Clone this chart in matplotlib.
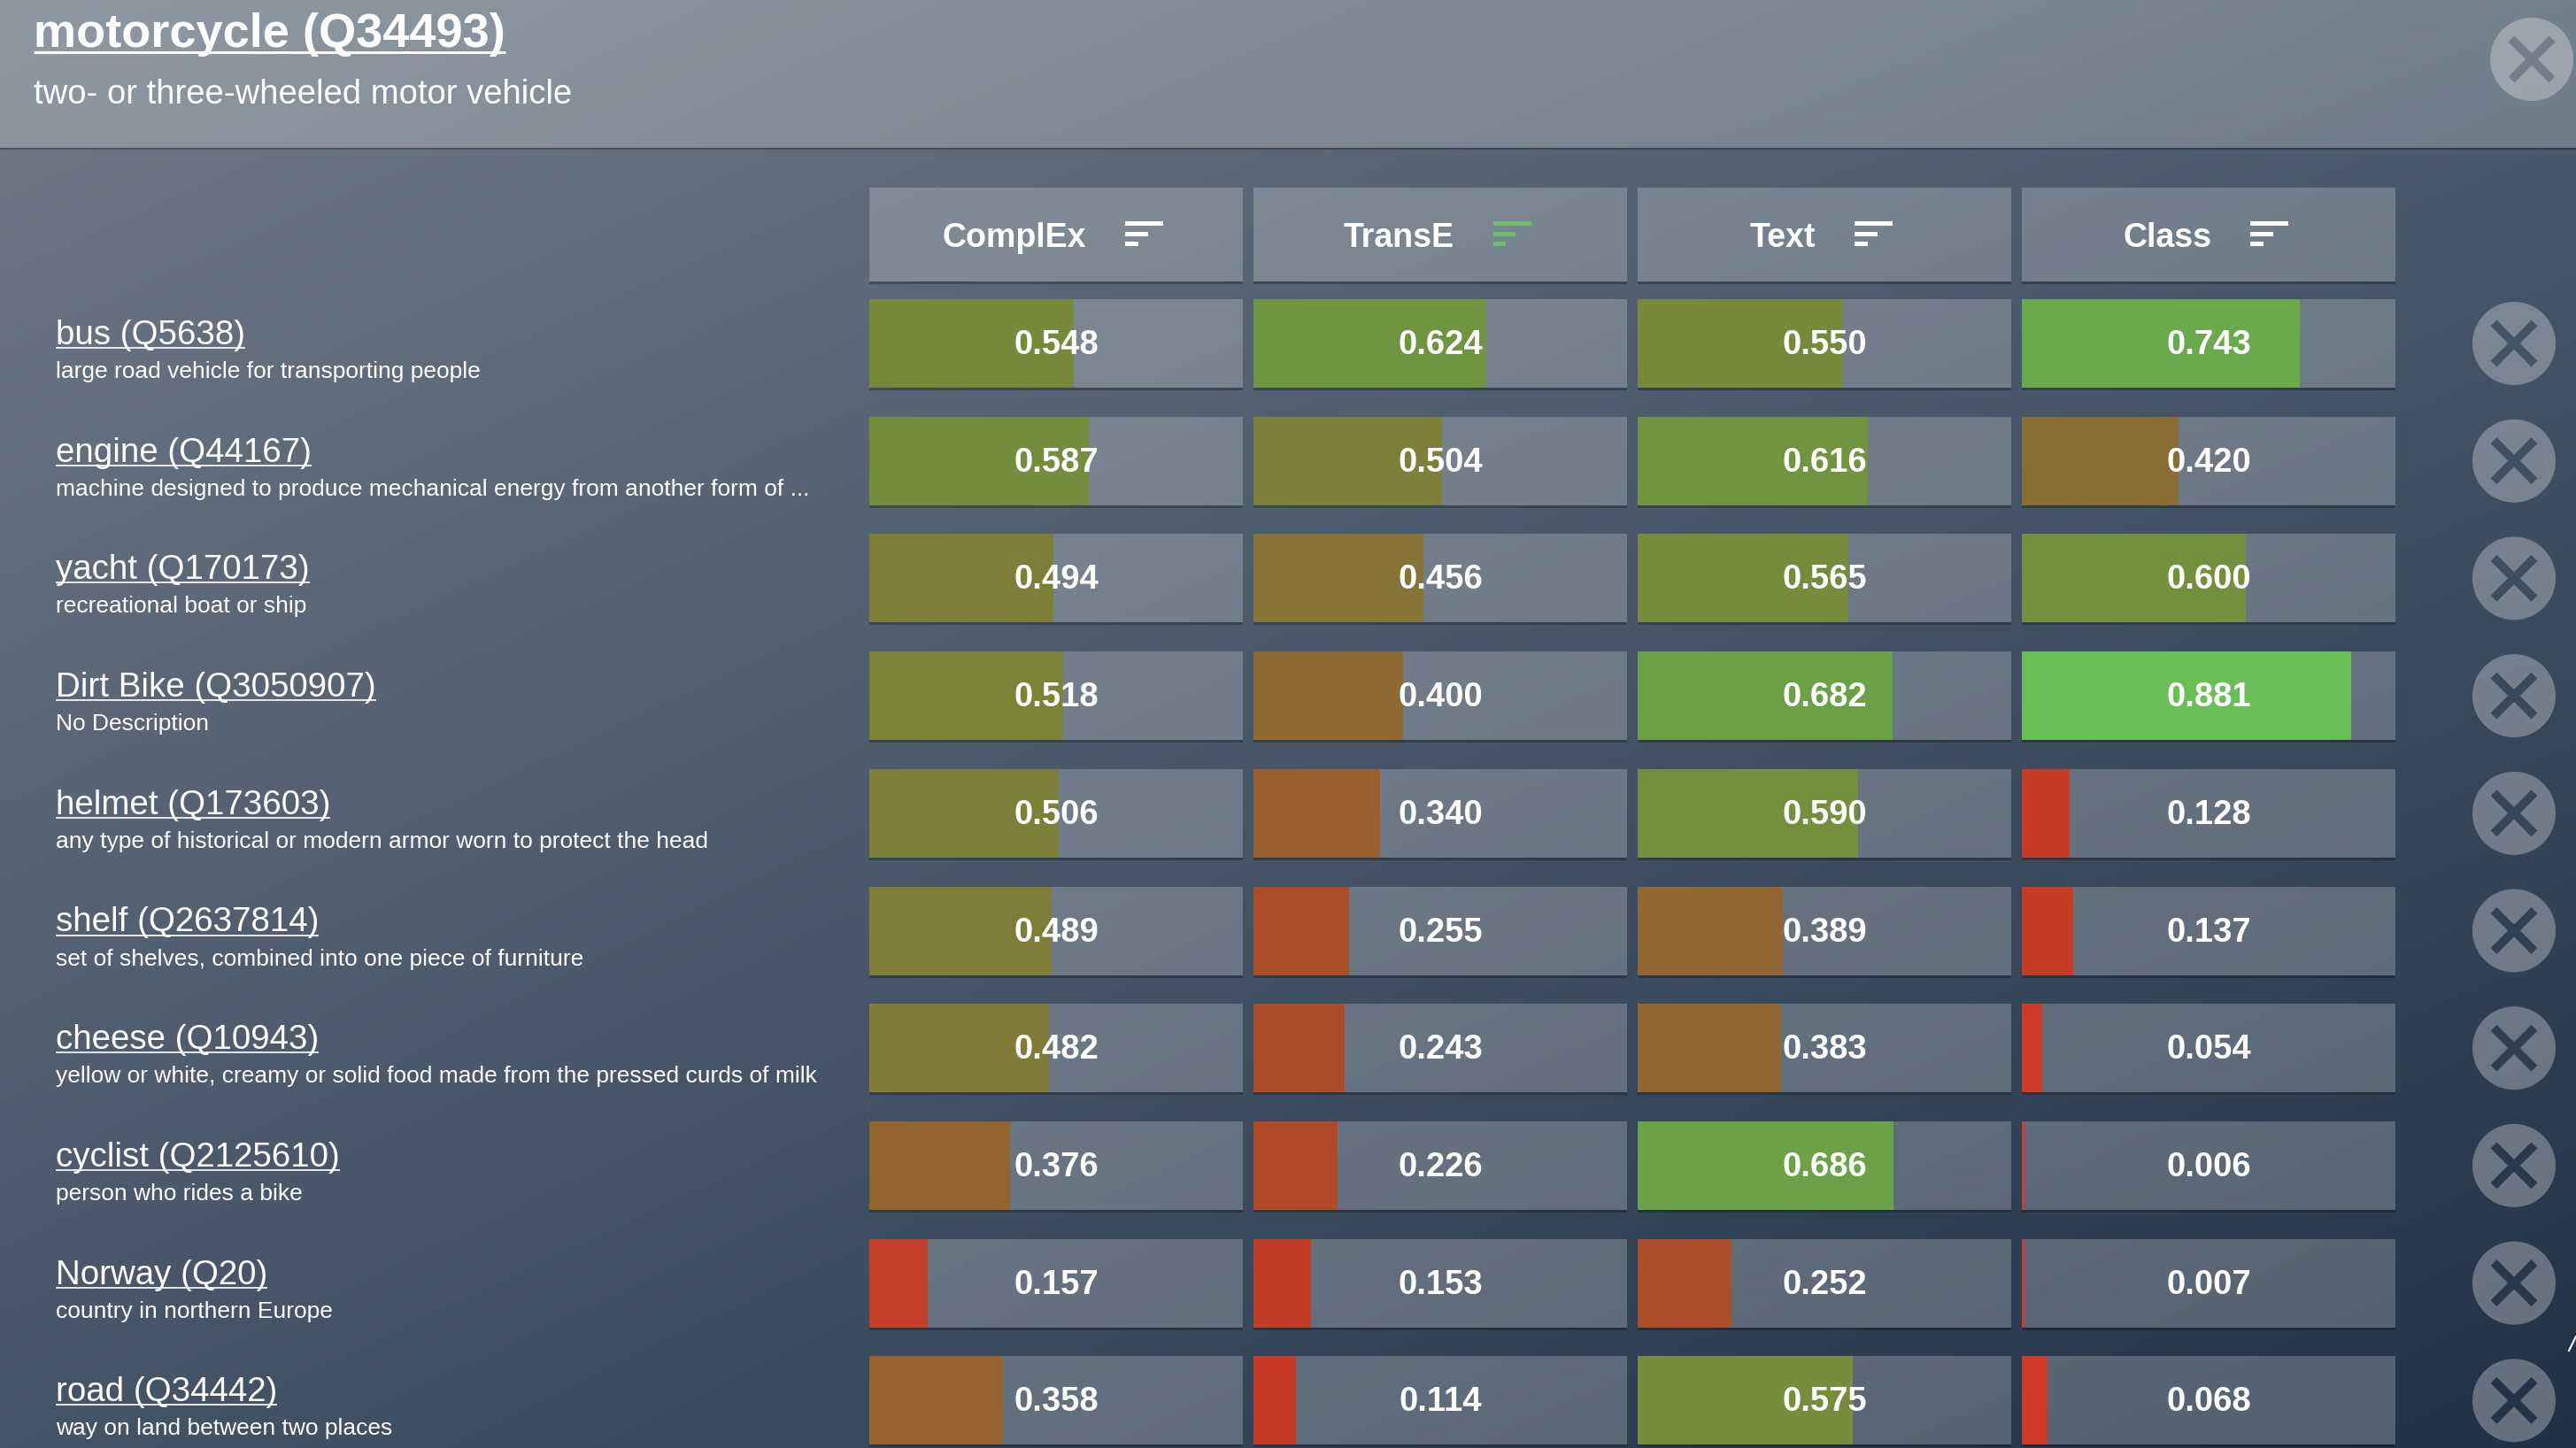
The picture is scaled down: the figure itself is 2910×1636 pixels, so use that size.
import numpy as np
import matplotlib
matplotlib.use("Agg")
import matplotlib.pyplot as plt
from matplotlib.colors import LinearSegmentedColormap
from matplotlib.patches import Rectangle, Circle

plt.rcParams['font.family'] = ['Liberation Sans', 'DejaVu Sans']

W, H = 2910, 1636

# ---- data ----
query_name = "motorcycle (Q34493)"
query_desc = "two- or three-wheeled motor vehicle"
models = ["ComplEx", "TransE", "Text", "Class"]
sorted_by = "TransE"
names = ["bus (Q5638)", "engine (Q44167)", "yacht (Q170173)", "Dirt Bike (Q3050907)",
         "helmet (Q173603)", "shelf (Q2637814)", "cheese (Q10943)", "cyclist (Q2125610)",
         "Norway (Q20)", "road (Q34442)"]
descs = ["large road vehicle for transporting people",
         "machine designed to produce mechanical energy from another form of ...",
         "recreational boat or ship",
         "No Description",
         "any type of historical or modern armor worn to protect the head",
         "set of shelves, combined into one piece of furniture",
         "yellow or white, creamy or solid food made from the pressed curds of milk",
         "person who rides a bike",
         "country in northern Europe",
         "way on land between two places"]
complex_scores = [0.548, 0.587, 0.494, 0.518, 0.506, 0.489, 0.482, 0.376, 0.157, 0.358]
transe_scores = [0.624, 0.504, 0.456, 0.400, 0.340, 0.255, 0.243, 0.226, 0.153, 0.114]
text_scores = [0.550, 0.616, 0.565, 0.682, 0.590, 0.389, 0.383, 0.686, 0.252, 0.575]
class_scores = [0.743, 0.420, 0.600, 0.881, 0.128, 0.137, 0.054, 0.006, 0.007, 0.068]
scores = [complex_scores, transe_scores, text_scores, class_scores]

# ---- layout (pixels) ----
band_h = 167
col_x0, col_w, col_step = 982, 422, 434
head_top, head_h = 212, 106
row_top0, row_h, row_step = 338, 100, 132.7
btn_x, btn_r = 2840, 47

# score colour scale: red -> olive -> green
score_cmap = LinearSegmentedColormap.from_list("score", [
    (0.00, "#d6392a"), (0.12, "#c93b25"), (0.23, "#b04a27"), (0.34, "#9a5f2e"),
    (0.40, "#8f6a32"), (0.46, "#847536"), (0.52, "#7b8439"), (0.60, "#72913e"),
    (0.68, "#6ba046"), (0.75, "#6aab4e"), (0.88, "#6bbd56"), (1.00, "#6cc45a")])


def bg_color(x, y):
    tl = np.array([112, 123, 137]); tr = np.array([76, 93, 111])
    bl = np.array([69, 85, 104]); br = np.array([33, 50, 70])
    u = x / W; v = y / H
    return ((1 - u) * (1 - v) * tl + u * (1 - v) * tr + (1 - u) * v * bl + u * v * br) / 255


fig = plt.figure(figsize=(W / 100, H / 100), dpi=100)
ax = fig.add_axes([0, 0, 1, 1])

gx, gy = np.meshgrid(np.linspace(0, W, 300), np.linspace(0, H, 170))
ax.imshow(bg_color(gx[..., None], gy[..., None]), extent=(0, W, H, 0),
          aspect='auto', interpolation='bilinear', zorder=0)
ax.set_xlim(0, W)
ax.set_ylim(H, 0)
ax.axis('off')

# header band
ax.add_patch(Rectangle((0, 0), W, band_h, fc='white', alpha=0.22, lw=0, zorder=1))
ax.plot([0, W], [band_h + 1, band_h + 1], color='black', alpha=0.3, lw=1.6, zorder=1)

renderer = fig.canvas.get_renderer()


def underline(t, y, lw):
    bb = t.get_window_extent(renderer)
    ax.plot([bb.x0, bb.x1], [y, y], color='white', lw=lw, solid_capstyle='butt', zorder=3)


t = ax.text(38, 53, query_name, fontsize=39, fontweight='bold', color='white',
            va='baseline', zorder=3)
underline(t, 59, 2.2)
ax.text(38, 117, query_desc, fontsize=27.5, color='white', va='baseline', zorder=3)


def close_button(cx, cy, fill_alpha, x_color):
    ax.add_patch(Circle((cx, cy), btn_r, fc='white', alpha=fill_alpha, lw=0, zorder=2))
    d = 23
    for sx in (-1, 1):
        ax.plot([cx - d, cx + d], [cy - sx * d, cy + sx * d], color=x_color, lw=7,
                solid_capstyle='butt', zorder=3)


close_button(2860, 67, 0.3, bg_color(2860, 67) * 0.78 + 0.22)

row_tops = [row_top0 + i * row_step for i in range(len(names))]
row_mid = [t0 + row_h / 2 for t0 in row_tops]

# column headers + cells
for i, m in enumerate(models):
    x0 = col_x0 + i * col_step
    ax.add_patch(Rectangle((x0, head_top), col_w, head_h, fc='white', alpha=0.22, lw=0, zorder=1))
    ax.add_patch(Rectangle((x0, head_top + head_h), col_w, 3, fc='black', alpha=0.25, lw=0, zorder=1))
    ht = ax.text(x0 + col_w / 2 - 47, head_top + 67, m, fontsize=27, fontweight='bold',
                 color='white', ha='center', va='baseline', zorder=3)
    bb = ht.get_window_extent(renderer)
    ix = bb.x1 + 44
    icol = '#6bbf6a' if m == sorted_by else 'white'
    for yc, w in zip((252.5, 264, 275.5), (43, 25.5, 14.7)):
        ax.add_patch(Rectangle((ix, yc - 2.5), w, 5, fc=icol, lw=0, zorder=3))
    for t0 in row_tops:
        ax.add_patch(Rectangle((x0, t0), col_w, row_h, fc='white', alpha=0.22, lw=0, zorder=1))
        ax.add_patch(Rectangle((x0, t0 + row_h), col_w, 3, fc='black', alpha=0.25, lw=0, zorder=1))

# score bars, one axes per model column
for i, vals in enumerate(scores):
    x0 = col_x0 + i * col_step
    cax = fig.add_axes([x0 / W, 0, col_w / W, 1])
    cax.set_xlim(0, 1)
    cax.set_ylim(H, 0)
    cax.axis('off')
    cax.patch.set_alpha(0)
    vals = np.array(vals)
    cax.barh(row_mid, vals, height=row_h, left=0, color=score_cmap(vals), lw=0)
    for yc, v in zip(row_mid, vals):
        cax.text(0.5, yc + 12, f"{v:.3f}", fontsize=27.5, fontweight='bold', color='white',
                 ha='center', va='baseline')

# left labels and close buttons
for t0, yc, nm, ds in zip(row_tops, row_mid, names, descs):
    nt = ax.text(63, t0 + 51, nm, fontsize=27.7, color='white', va='baseline', zorder=3)
    underline(nt, t0 + 55, 1.2)
    ax.text(63, t0 + 89, ds, fontsize=19, color='white', va='baseline', zorder=3)
    close_button(btn_x, yc, 0.3, bg_color(btn_x, yc))

ax.plot([2902, 2910], [1526, 1510], color='white', lw=1.5, zorder=3)

fig.savefig("out.png", dpi=100)
